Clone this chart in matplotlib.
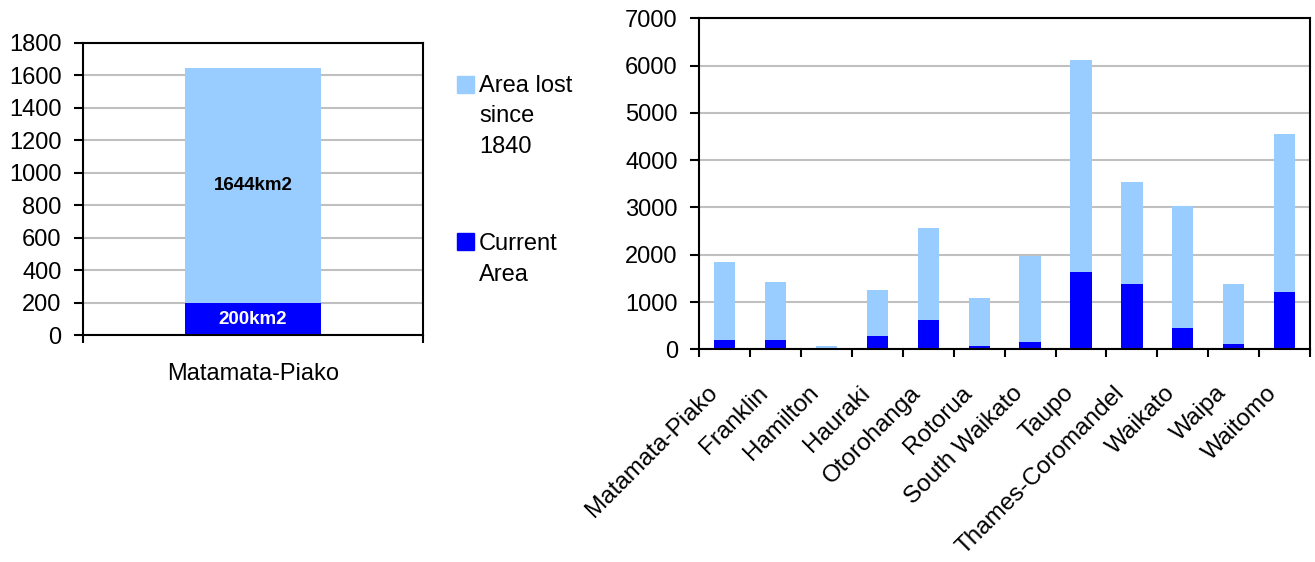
import numpy as np
import matplotlib
matplotlib.use("Agg")
import matplotlib.pyplot as plt
from matplotlib.patches import Rectangle
from matplotlib.transforms import ScaledTranslation

plt.rcParams['font.family'] = ['Liberation Sans', 'DejaVu Sans']

# left panel: one district
left_category = ['Matamata-Piako']
left_current = [200]
left_lost = [1644]
left_labels = ['200km2', '1644km2']

# right panel: all districts
districts = ['Matamata-Piako', 'Franklin', 'Hamilton', 'Hauraki', 'Otorohanga',
             'Rotorua', 'South Waikato', 'Taupo', 'Thames-Coromandel',
             'Waikato', 'Waipa', 'Waitomo']
current_area = [200, 200, 0, 280, 620, 70, 155, 1635, 1380, 450, 115, 1210]
area_lost = [1644, 1225, 70, 975, 1945, 1015, 1820, 4485, 2160, 2580, 1265, 3345]

light = '#99CCFF'
dark = '#0000FF'
grid_col = '#C0C0C0'
fs = 17

fig = plt.figure(figsize=(13.15, 5.62), dpi=100)
W, H = 1315, 562


def px_axes(x0, y0, x1, y1):
    return fig.add_axes([x0 / W, 1 - y1 / H, (x1 - x0) / W, (y1 - y0) / H])


def style(ax):
    for s in ax.spines.values():
        s.set_linewidth(1.5)
        s.set_color('black')
    ax.set_axisbelow(True)
    ax.yaxis.grid(True, color=grid_col, linewidth=1.5)
    ax.tick_params(axis='y', direction='out', length=6.5, width=1.5,
                   pad=9, labelsize=fs)


# ---- left chart ----
ax1 = px_axes(83, 42.7, 422.7, 335.3)
x1 = np.arange(len(left_category))
ax1.bar(x1, left_lost, width=0.4, color=light)
ax1.bar(x1, left_current, width=0.4, color=dark)
ax1.set_xlim(-0.5, 0.5)
ax1.set_ylim(0, 1800)
ax1.set_yticks(np.arange(0, 1801, 200))
style(ax1)
ax1.set_xticks([-0.5, 0.5])
ax1.set_xticklabels([])
ax1.tick_params(axis='x', which='major', direction='out', length=6, width=1.5)
ax1.set_xticks(x1, minor=True)
ax1.set_xticklabels(left_category, minor=True, fontsize=fs)
ax1.tick_params(axis='x', which='minor', length=0, pad=20)
for xi, c, l in zip(x1, left_current, left_lost):
    ax1.text(xi, c / 2, left_labels[0], ha='center', va='center',
             color='white', fontweight='bold', fontsize=13.5)
    ax1.text(xi, (c + l) / 2, left_labels[1], ha='center', va='center',
             color='black', fontweight='bold', fontsize=13.5)

# ---- legend (manual, matches the tall stacked layout) ----
fig.patches.append(Rectangle((456.7 / W, 1 - 93.3 / H), 17 / W, 17 / H,
                             transform=fig.transFigure, color=light))
fig.patches.append(Rectangle((456.7 / W, 1 - 250.5 / H), 17 / W, 17 / H,
                             transform=fig.transFigure, color=dark))
fig.text(479 / W, 1 - 75 / H, 'Area lost\nsince\n1840', fontsize=fs,
         va='top', ha='left', linespacing=1.5)
fig.text(479 / W, 1 - 233 / H, 'Current\nArea', fontsize=fs,
         va='top', ha='left', linespacing=1.5)

# ---- right chart ----
ax2 = px_axes(699.3, 18.3, 1310, 349.3)
x2 = np.arange(len(districts))
ax2.bar(x2, current_area, width=0.42, color=dark)
ax2.bar(x2, area_lost, width=0.42, bottom=current_area, color=light)
ax2.set_xlim(-0.5, len(districts) - 0.5)
ax2.set_ylim(0, 7000)
ax2.set_yticks(np.arange(0, 7001, 1000))
style(ax2)
ax2.set_xticks(np.arange(-0.5, len(districts), 1.0))
ax2.set_xticklabels([])
ax2.tick_params(axis='x', which='major', direction='out', length=6, width=1.5)
ax2.set_xticks(x2, minor=True)
ax2.set_xticklabels(districts, minor=True, fontsize=17.5, rotation=45,
                    ha='right', va='center', rotation_mode='anchor')
ax2.tick_params(axis='x', which='minor', length=0, pad=29)
shift = ScaledTranslation(-11 / 100, 0, fig.dpi_scale_trans)
for lab in ax2.get_xticklabels(minor=True):
    lab.set_transform(lab.get_transform() + shift)

fig.savefig('out.png', dpi=100)
